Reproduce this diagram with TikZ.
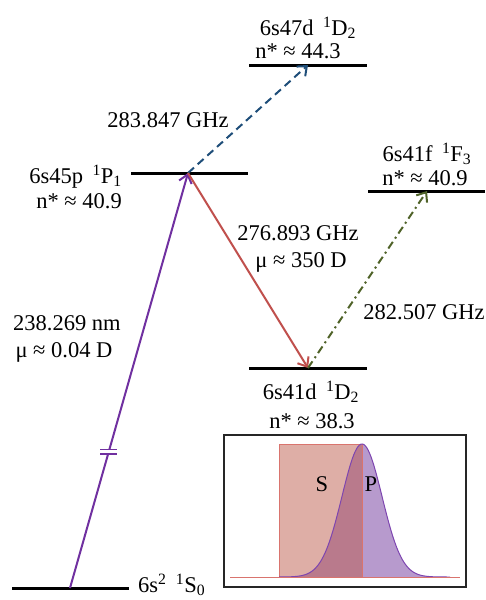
\documentclass[tikz,border=0pt]{standalone}
\usepackage{fontspec}
\setmainfont{Liberation Serif}
\usetikzlibrary{arrows.meta, positioning, calc}

\definecolor{uvviolet}{HTML}{7030A0}
\definecolor{mwblue}{HTML}{1F4E79}
\definecolor{mwred}{HTML}{C0504D}
\definecolor{mwolive}{HTML}{4F6228}
\definecolor{pulsered}{HTML}{D9746E}
\definecolor{pulsesalmon}{HTML}{DEAEA6}
\definecolor{pulsemauve}{HTML}{B97A8C}
\definecolor{pulselilac}{HTML}{B79ACD}
\definecolor{pulsepurple}{HTML}{7D45B0}

\begin{document}
\begin{tikzpicture}[
        x=1pt, y=-1pt,
        lvl/.style={line width=3pt, draw=black},
        txt/.style={font=\fontsize{22.5}{26}\selectfont, inner sep=0pt},
        tip/.style={-{Straight Barb[length=8pt, width=13pt]}},
        uv/.style={tip, line width=2pt, draw=uvviolet},
        mwup/.style={tip, line width=2pt, draw=mwblue, dash pattern=on 8pt off 5pt},
        mwdown/.style={tip, line width=2pt, draw=mwred},
        mwside/.style={tip, line width=2pt, draw=mwolive, dash pattern=on 8pt off 4pt on 2pt off 4pt}
    ]
        \useasboundingbox (0,0) rectangle (485,600);
        % levels
        \coordinate (d47l) at (249,65);  \coordinate (d47r) at (367,65);  \coordinate (d47) at (308,65);
        \coordinate (p45l) at (131,173); \coordinate (p45r) at (248,173); \coordinate (p45) at (188,173);
        \coordinate (f41l) at (368,191); \coordinate (f41r) at (485,191); \coordinate (f41) at (427,191);
        \coordinate (d41l) at (249,368); \coordinate (d41r) at (367,368); \coordinate (d41) at (308,368);
        \coordinate (gndl) at (12,588);  \coordinate (gndr) at (129,588); \coordinate (gnd) at (70,588);
        \draw[lvl] (d47l) -- (d47r);
        \draw[lvl] (p45l) -- (p45r);
        \draw[lvl] (f41l) -- (f41r);
        \draw[lvl] (d41l) -- (d41r);
        \draw[lvl] (gndl) -- (gndr);
        \node[txt, anchor=base] (d47name) at (308,35) {6s47d\ \,\textsuperscript{1}D\textsubscript{2}};
        \node[txt, anchor=base] (d47n) at (298,58) {n* ≈ 44.3};
        \node[txt, anchor=base east] (p45name) at (122,183) {6s45p\ \,\textsuperscript{1}P\textsubscript{1}};
        \node[txt, anchor=base east] (p45n) at (122,208) {n* ≈ 40.9};
        \node[txt, anchor=base] (f41name) at (427,161) {6s41f\ \,\textsuperscript{1}F\textsubscript{3}};
        \node[txt, anchor=base] (f41n) at (425,185) {n* ≈ 40.9};
        \node[txt, anchor=base] (d41name) at (311,399) {6s41d\ \,\textsuperscript{1}D\textsubscript{2}};
        \node[txt, anchor=base] (d41n) at (312,428) {n* ≈ 38.3};
        \node[txt, anchor=base west] (gndname) at (138,592) {6s\textsuperscript{2}\ \,\textsuperscript{1}S\textsubscript{0}};
        % transitions
        \draw[uv] (gnd) -- (p45);
        \draw[mwup] (p45) -- (d47);
        \draw[mwdown] (p45) -- (d41);
        \draw[mwside] (d41) -- (f41);
        \path (gnd) -- (p45) coordinate[pos=0.328] (brk);
        \fill[white] ($(brk)+(-9,-2)$) rectangle ($(brk)+(9,2)$);
        \draw[uvviolet, line width=1.5pt] ($(brk)+(-8.5,-2.3)$) -- ++(17,0);
        \draw[uvviolet, line width=1.5pt] ($(brk)+(-8.5,2.3)$) -- ++(17,0);
        \node[txt, anchor=base] (uvfreq) at (67,330) {238.269 nm};
        \node[txt, anchor=base] (uvdip) at (64,357) {μ ≈ 0.04 D};
        \node[txt, anchor=base] (upfreq) at (168,127) {283.847 GHz};
        \node[txt, anchor=base] (downfreq) at (298,240) {276.893 GHz};
        \node[txt, anchor=base] (downdip) at (301,267) {μ ≈ 350 D};
        \node[txt, anchor=base] (sidefreq) at (424,319) {282.507 GHz};
        % pulse inset
        \draw[line width=2pt, draw=black!85] (224,435) rectangle (466,587);
        \filldraw[fill=pulsesalmon, draw=pulsered, line width=1pt] (279,444) rectangle (362,577);
        \fill[pulsemauve] plot[domain=279:362, samples=60] (\x, {577-133*exp(-((\x-362)/20)^2/2)}) -- (362,577) -- cycle;
        \fill[pulselilac] plot[domain=362:450, samples=60] (\x, {577-133*exp(-((\x-362)/20)^2/2)}) -- (362,577) -- cycle;
        \draw[pulsered, line width=1pt] (362,444) -- (362,577);
        \draw[pulsepurple, line width=1pt] plot[domain=279:450, samples=120] (\x, {577-133*exp(-((\x-362)/20)^2/2)});
        \draw[pulsered, line width=1pt] (230,577) -- (460,577);
        \node[txt, anchor=base] (slabel) at (322,491) {S};
        \node[txt, anchor=base] (plabel) at (371,491) {P};
\end{tikzpicture}
\end{document}
